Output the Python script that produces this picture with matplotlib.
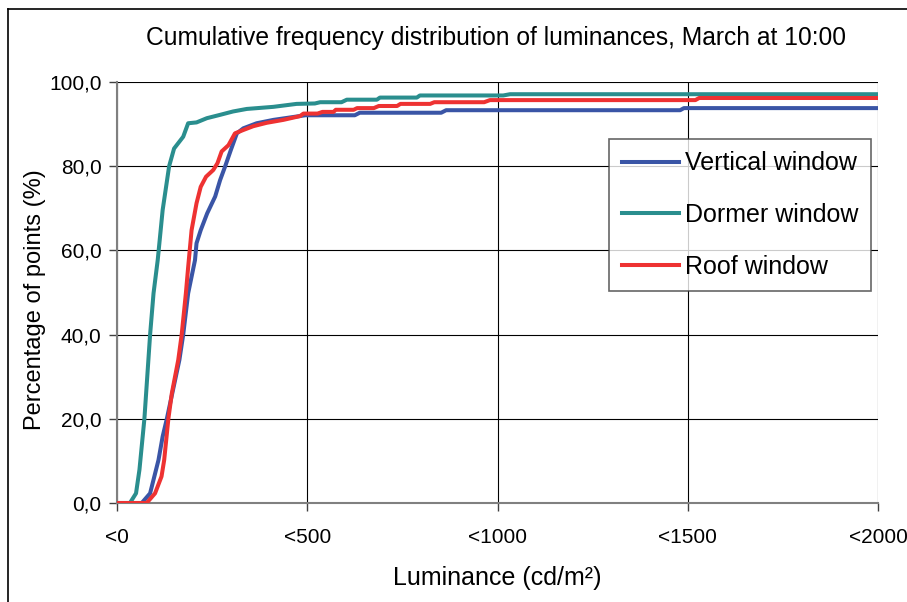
import matplotlib.pyplot as plt
from matplotlib.lines import Line2D

plt.rcParams['font.family'] = ['Liberation Sans', 'DejaVu Sans']

# luminance (cd/m2) vs cumulative percentage of points
vert_x = [0, 65, 87, 109, 120, 131, 164, 174, 187, 205, 209, 220, 237, 258, 271, 284,
          299, 315, 332, 367, 411, 472, 495, 625, 638, 852, 865, 1480, 1490, 2000]
vert_y = [0, 0, 2.3, 10.2, 15.8, 20, 34, 40, 49.8, 57.7, 61.7, 64.8, 68.8, 72.8, 76.7, 79.9,
          83.8, 87.8, 89, 90.2, 91, 91.8, 92.1, 92.1, 92.7, 92.7, 93.3, 93.3, 93.8, 93.8]

dorm_x = [0, 34, 50, 59, 72, 87, 96, 107, 120, 137, 150, 174, 187, 209, 236, 271, 305,
          341, 411, 472, 520, 534, 590, 604, 683, 691, 788, 796, 1015, 1033, 2000]
dorm_y = [0, 0, 2.3, 7.9, 20, 40, 49.8, 57.7, 69.6, 80, 84.2, 87, 90.2, 90.4, 91.4, 92.2, 93,
          93.6, 94.1, 94.8, 94.9, 95.2, 95.2, 95.8, 95.8, 96.3, 96.3, 96.8, 96.8, 97.1, 97.1]

roof_x = [0, 78, 100, 117, 124, 135, 144, 161, 170, 181, 187, 196, 209, 220, 234, 253, 264,
          275, 293, 310, 332, 358, 393, 437, 481, 490, 527, 540, 569, 575, 622, 631, 675,
          688, 736, 745, 823, 834, 965, 980, 1520, 1530, 2000]
roof_y = [0, 0, 2.3, 6.3, 10.2, 20, 26, 34, 40, 49.8, 56, 64.8, 71.2, 75.1, 77.5, 79.1, 80.7,
          83.5, 85, 87.8, 88.6, 89.5, 90.3, 91, 91.9, 92.5, 92.5, 92.9, 92.9, 93.4, 93.4, 93.8, 93.8,
          94.3, 94.3, 94.8, 94.8, 95.2, 95.2, 95.7, 95.7, 96.2, 96.2]

x_ticks = [0, 500, 1000, 1500, 2000]
y_ticks = [0, 20, 40, 60, 80, 100]

fig = plt.figure(figsize=(9.07, 6.02), dpi=100)
ax = fig.add_axes([117/907, 1 - 503/602, 761/907, 421/602])

ax.plot(vert_x, vert_y, color='#3A55A6', lw=2.9, label='Vertical window', zorder=3)
ax.plot(dorm_x, dorm_y, color='#2A8E8E', lw=2.9, label='Dormer window', zorder=3)
ax.plot(roof_x, roof_y, color='#EE3232', lw=2.9, label='Roof window', zorder=4)

ax.set_xlim(0, 2000)
ax.set_ylim(0, 100)
ax.set_xticks(x_ticks)
ax.set_xticklabels(['<%d' % v for v in x_ticks])
ax.set_yticks(y_ticks)
ax.set_yticklabels([('%.1f' % v).replace('.', ',') for v in y_ticks])
ax.grid(True, color='black', lw=0.8, zorder=1)
ax.set_axisbelow(True)

for s in ['top', 'right']:
    ax.spines[s].set_visible(False)
for s in ['left', 'bottom']:
    ax.spines[s].set_color('#808080')
    ax.spines[s].set_linewidth(1.5)
ax.tick_params(axis='both', direction='out', length=6, width=1, color='#404040',
               labelsize=15, pad=5)
ax.tick_params(axis='x', pad=12)

ax.set_xlabel('Luminance (cd/m²)', fontsize=18)
ax.xaxis.set_label_coords((497 - 117) / 761, -(578 - 503) / 421)
ax.set_ylabel('Percentage of points (%)', fontsize=17)
ax.yaxis.set_label_coords(-(117 - 35) / 761, (503 - 300) / 421)
for lab in (ax.xaxis.label, ax.yaxis.label):
    lab.set_va('center')
    lab.set_ha('center')

fig.text(496/907, 1 - 38/602, 'Cumulative frequency distribution of luminances, March at 10:00',
         ha='center', va='center', fontsize=17.7)

leg = ax.legend(loc='upper left', bbox_to_anchor=(609/907, 1 - 139/602),
                bbox_transform=fig.transFigure, fontsize=18, frameon=True, fancybox=False,
                edgecolor='#404040', handlelength=2.3, handletextpad=0.25,
                labelspacing=1.1, borderpad=0.5, borderaxespad=0)
leg.get_frame().set_linewidth(1.2)

# outer chart border (left and top edges)
fig.add_artist(Line2D([8/907, 8/907], [0, 1 - 9/602], transform=fig.transFigure,
                      color='black', lw=1.2))
fig.add_artist(Line2D([8/907, 1], [1 - 9/602, 1 - 9/602], transform=fig.transFigure,
                      color='black', lw=1.2))

fig.savefig('out.png', dpi=100)
